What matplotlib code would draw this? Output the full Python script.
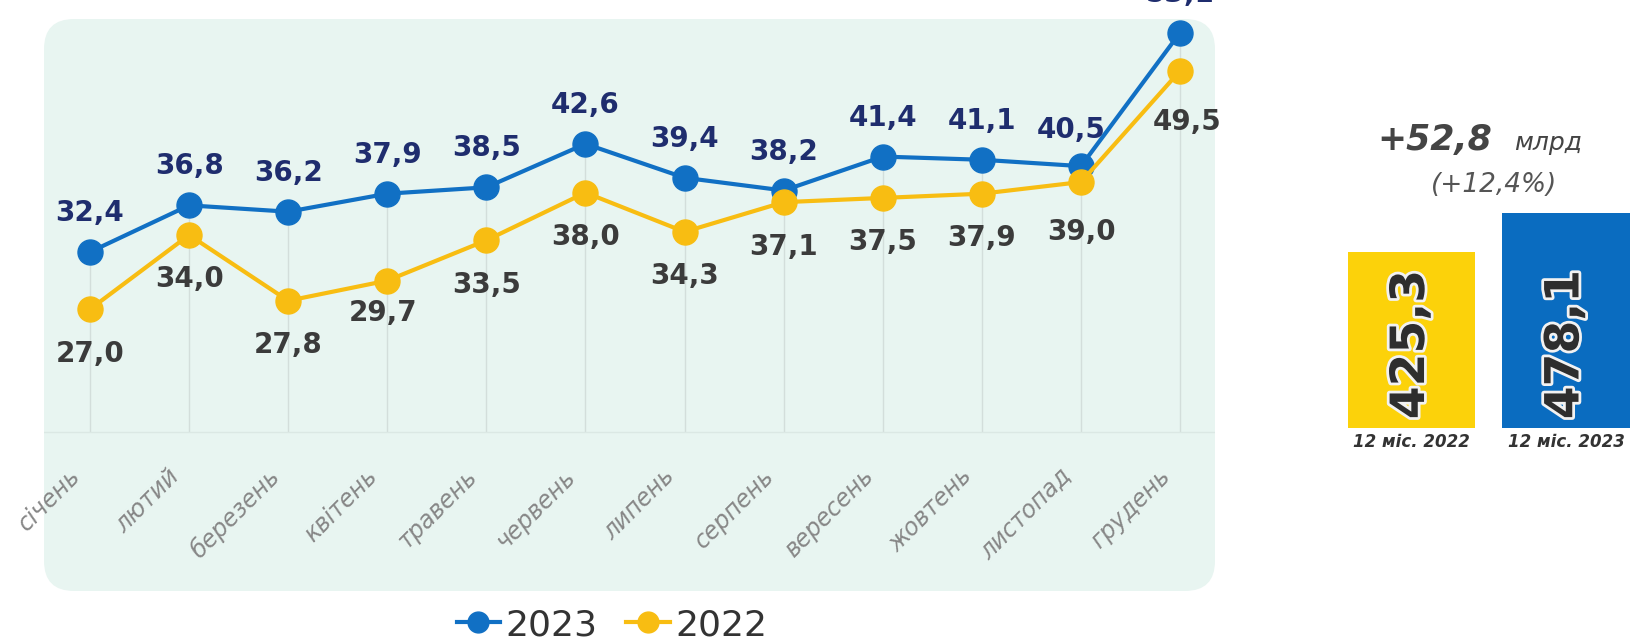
import matplotlib.pyplot as plt
import matplotlib.patheffects as pe
from matplotlib.patches import FancyBboxPatch
from matplotlib.lines import Line2D
import matplotlib.transforms as mtransforms
import numpy as np

months = ['січень', 'лютий', 'березень', 'квітень', 'травень', 'червень',
          'липень', 'серпень', 'вересень', 'жовтень', 'листопад', 'грудень']
v2023 = [32.4, 36.8, 36.2, 37.9, 38.5, 42.6, 39.4, 38.2, 41.4, 41.1, 40.5, 53.1]
v2022 = [27.0, 34.0, 27.8, 29.7, 33.5, 38.0, 34.3, 37.1, 37.5, 37.9, 39.0, 49.5]
total_labels = ['12 міс. 2022', '12 міс. 2023']
totals = [425.3, 478.1]

BLUE = '#1170c4'
YELLOW = '#f8bd12'


def fmt(v):
    return f'{v:.1f}'.replace('.', ',')


fig = plt.figure(figsize=(16.4, 6.43), dpi=100)

# background panel, in pixel units
bg = fig.add_axes([0, 0, 1, 1], zorder=-5)
bg.set_xlim(0, 1640)
bg.set_ylim(643, 0)
bg.axis('off')
bg.add_patch(FancyBboxPatch((44, 19), 1171, 572,
                            boxstyle='round,pad=0,rounding_size=30',
                            fc='#e8f5f1', ec='none'))

# line chart
ax = fig.add_axes([44 / 1640, (643 - 445) / 643, 1171 / 1640, 426 / 643])
ax.patch.set_alpha(0)
ax.set_xlim(-0.464, 11.352)
ax.set_ylim(14.19, 54.38)
ax.axis('off')

x = np.arange(len(months))
ax.vlines(x, 15.42, v2023, color='#d3dedb', lw=1, zorder=1)
ax.axhline(15.42, color='#dbe8e4', lw=1, zorder=1)
ax.plot(x, v2023, color=BLUE, lw=3, marker='o', ms=18, zorder=3)
ax.plot(x, v2022, color=YELLOW, lw=3, marker='o', ms=18, zorder=4)

tweak23 = {10: (-7, 26), 11: (0, 28)}
tweak22 = {3: (-3, -23), 10: (0, -36), 11: (5, -37)}
for i in x:
    ax.annotate(fmt(v2023[i]), (i, v2023[i]), xytext=tweak23.get(i, (0, 28)),
                textcoords='offset points', ha='center', va='center',
                fontsize=20, fontweight='bold', color='#1f2d6e', zorder=6,
                annotation_clip=False)
    ax.annotate(fmt(v2022[i]), (i, v2022[i]), xytext=tweak22.get(i, (0, -32)),
                textcoords='offset points', ha='center', va='center',
                fontsize=20, fontweight='bold', color='#3b3b3b', zorder=6)

trans = mtransforms.blended_transform_factory(ax.transData, ax.transAxes)
for i, m in enumerate(months):
    ax.text(i - 0.22, -0.045, m, transform=trans, rotation=45,
            rotation_mode='anchor', ha='right', va='top',
            fontsize=17, style='italic', color='#878787')

handles = [Line2D([], [], color=BLUE, lw=3, marker='o', ms=15),
           Line2D([], [], color=YELLOW, lw=3, marker='o', ms=15)]
fig.legend(handles, ['2023', '2022'], loc='center',
           bbox_to_anchor=(612 / 1640, 1 - 625 / 643), ncol=2, frameon=False,
           fontsize=26, handlelength=1.2, handletextpad=0.15,
           columnspacing=0.8, labelcolor='#333333')

# totals
ax2 = fig.add_axes([1300 / 1640, (643 - 428) / 643, 340 / 1640, 328 / 643])
ax2.patch.set_alpha(0)
ax2.set_xlim(-0.722, 1.479)
ax2.set_ylim(187.1, 630.9)
ax2.axis('off')
ax2.bar([0, 1], totals, width=0.825, bottom=0, color=['#fcd20a', '#0a6cc0'])
for i, t in enumerate(totals):
    ax2.text(i, 300, fmt(t), rotation=90, ha='center', va='center',
             fontsize=34, fontweight='bold', color='#2e2e2e',
             path_effects=[pe.withStroke(linewidth=4, foreground='#f2f2f2')])
    ax2.annotate(total_labels[i], (i, 187.1), xytext=(0, -10),
                 textcoords='offset points', ha='center', va='center',
                 fontsize=12, fontweight='bold', style='italic', color='#333333',
                 annotation_clip=False)

diff = totals[1] - totals[0]
pct = diff / totals[0] * 100
fig.text(1377 / 1640, 1 - 150 / 643, '+' + fmt(diff), ha='left', va='baseline',
         fontsize=25, fontweight='bold', style='italic', color='#444444')
fig.text(1514 / 1640, 1 - 150 / 643, 'млрд', ha='left', va='baseline',
         fontsize=18, style='italic', color='#444444')
fig.text(1494 / 1640, 1 - 185 / 643, '(+' + fmt(pct) + '%)', ha='center',
         va='center', fontsize=19, style='italic', color='#555555')

fig.savefig('out.png', dpi=100)
